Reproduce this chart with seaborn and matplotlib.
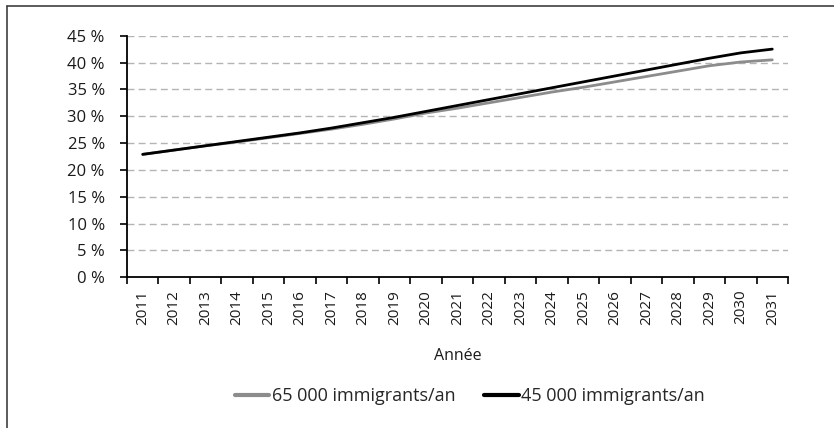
import matplotlib
matplotlib.use("Agg")
import matplotlib.pyplot as plt
import matplotlib.lines as mlines
import seaborn as sns
import pandas as pd
import numpy as np

years = list(range(2011, 2032))
series_65k = [22.9, 23.7, 24.5, 25.2, 26.0, 26.8, 27.6, 28.5, 29.5, 30.6, 31.5,
              32.5, 33.5, 34.5, 35.4, 36.4, 37.4, 38.4, 39.4, 40.1, 40.5]
series_45k = [22.9, 23.7, 24.5, 25.3, 26.1, 26.9, 27.8, 28.8, 29.8, 30.9, 32.0,
              33.1, 34.2, 35.3, 36.4, 37.5, 38.6, 39.7, 40.8, 41.8, 42.5]
label_65k = "65 000 immigrants/an"
label_45k = "45 000 immigrants/an"
y_ticks = [0, 5, 10, 15, 20, 25, 30, 35, 40, 45]
x_title = "Année"

sns.set_theme(style="white")
plt.rcParams['font.family'] = ['Open Sans', 'DejaVu Sans']

df = pd.DataFrame({
    "year": years * 2,
    "value": series_65k + series_45k,
    "series": [label_65k] * len(years) + [label_45k] * len(years),
})

fig = plt.figure(figsize=(8.34, 4.28), dpi=100)
ax = fig.add_axes([127 / 834, 1 - 277.3 / 428, (788 - 127) / 834, (277.3 - 35.7) / 428])

# gridlines
for t in y_ticks[1:]:
    ax.axhline(t, color="#b4b4b4", lw=1.0, ls=(0, (5, 3)), zorder=0)

sns.lineplot(data=df, x="year", y="value", hue="series",
             palette={label_65k: "#8c8c8c", label_45k: "#000000"},
             linewidth=2.0, ax=ax, legend=False, zorder=3)

ax.set_xlim(years[0] - 0.5, years[-1] + 0.5)
ax.set_ylim(0, 45)
ax.set_yticks(y_ticks)
ax.set_yticklabels([f"{t} %" for t in y_ticks], fontsize=12, color="#1a1a1a")

# major ticks at category boundaries, labels at centers (minor)
ax.set_xticks(np.arange(years[0] - 0.5, years[-1] + 1.0, 1.0))
ax.set_xticklabels([])
ax.set_xticks(years, minor=True)
ax.set_xticklabels([str(y) for y in years], minor=True, rotation=90,
                   fontsize=11, color="#1a1a1a")
ax.tick_params(axis="x", which="major", direction="out", length=5, width=1.2,
               color="black", bottom=True)
ax.tick_params(axis="x", which="minor", length=0, pad=9)
ax.tick_params(axis="y", direction="out", length=5, width=1.2, color="black",
               left=True, pad=11)

for s in ["top", "right"]:
    ax.spines[s].set_visible(False)
for s in ["left", "bottom"]:
    ax.spines[s].set_color("black")
    ax.spines[s].set_linewidth(1.3)

ax.set_xlabel(x_title, fontsize=11.5, color="#1a1a1a", labelpad=17)
ax.set_ylabel("")

handles = [mlines.Line2D([], [], color="#8c8c8c", lw=3),
           mlines.Line2D([], [], color="#000000", lw=3)]
fig.legend(handles, [label_65k, label_45k], loc="center",
           bbox_to_anchor=(470 / 834, 1 - 396 / 428), ncol=2, frameon=False,
           fontsize=13, handlelength=1.9, handletextpad=0.15, columnspacing=1.6)

# outer frame (top and left edges)
fig.add_artist(mlines.Line2D([7 / 834, 7 / 834], [0, 1 - 6 / 428],
                             transform=fig.transFigure, color="#404040", lw=1.2))
fig.add_artist(mlines.Line2D([7 / 834, 1], [1 - 6 / 428, 1 - 6 / 428],
                             transform=fig.transFigure, color="#404040", lw=1.2))

fig.savefig("out.png", dpi=100, facecolor="white")
